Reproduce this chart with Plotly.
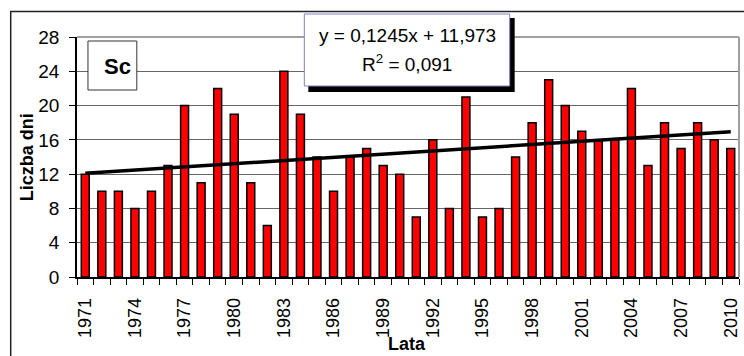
import plotly.graph_objects as go

# Annual number of days (Sc), 1971-2010
years = list(range(1971, 2011))
days = [12, 10, 10, 8, 10, 13, 20, 11, 22, 19,
        11, 6, 24, 19, 14, 10, 14, 15, 13, 12,
        7, 16, 8, 21, 7, 8, 14, 18, 23, 20,
        17, 16, 16, 22, 13, 18, 15, 18, 16, 15]

# Linear trend as reported: y = a*i + b, i = 1..n
trend_a = 0.1245
trend_b = 11.973
r2 = 0.091

tick_years = years[::3]
y_ticks = list(range(0, 29, 4))

W, H = 744, 356
L, R, T, B = 77, 3, 37, 79
PW, PH = W - L - R, H - T - B


def px(x):
    return (x - L) / PW


def py(y):
    return (H - B - y) / PH


trend_x = [years[0], years[-1]]
trend_y = [trend_a * 1 + trend_b, trend_a * len(years) + trend_b]

fig = go.Figure()
fig.add_trace(go.Bar(
    x=years, y=days, width=0.48,
    marker=dict(color="#ff0000", line=dict(color="black", width=1.5)),
    hoverinfo="x+y",
))
fig.add_trace(go.Scatter(
    x=trend_x, y=trend_y, mode="lines",
    line=dict(color="black", width=3.5),
    hoverinfo="skip",
))

font = "Liberation Sans, Arial, sans-serif"

shapes = [
    # outer frame (open to the right and bottom)
    dict(type="rect", xref="paper", yref="paper",
         x0=px(10.5), x1=px(760), y0=py(11.5), y1=py(380),
         line=dict(color="#222", width=1.5), fillcolor="rgba(0,0,0,0)"),
    # plot-area border top / right
    dict(type="line", xref="paper", yref="paper",
         x0=0, x1=1, y0=1, y1=1, line=dict(color="#a0a0a0", width=2)),
    dict(type="line", xref="paper", yref="paper",
         x0=1, x1=1, y0=0, y1=1, line=dict(color="#a0a0a0", width=2)),
    # series label box
    dict(type="rect", xref="paper", yref="paper",
         x0=px(88), x1=px(137), y0=py(41), y1=py(90),
         line=dict(color="#333", width=1), fillcolor="white"),
    # equation box shadow + box
    dict(type="rect", xref="paper", yref="paper",
         x0=px(309), x1=px(516), y0=py(18), y1=py(92),
         line=dict(width=0), fillcolor="black"),
    dict(type="rect", xref="paper", yref="paper",
         x0=px(305), x1=px(511), y0=py(14), y1=py(86),
         line=dict(color="#8080c0", width=1), fillcolor="white"),
]

a_txt = f"{trend_a:.4f}".replace(".", ",")
b_txt = f"{trend_b:.3f}".replace(".", ",")
r_txt = f"{r2:.3f}".replace(".", ",")


def label(text, x, y, size, angle=0):
    return dict(text=text, xref="paper", yref="paper", x=px(x), y=py(y),
                xanchor="center", yanchor="middle", textangle=angle,
                showarrow=False,
                font=dict(family=font, size=size, color="black"))


annotations = [
    label("<b>Sc</b>", 118, 66, 22),
    label(f"y = {a_txt}x + {b_txt}", 408, 35, 19),
    label(f"R<sup>2</sup> = {r_txt}", 408, 63, 19),
    label("<b>Liczba dni</b>", 27, 157, 18, -90),
    label("<b>Lata</b>", 408, 344, 18),
]

fig.update_layout(
    width=W, height=H,
    margin=dict(l=L, r=R, t=T, b=B, pad=0),
    paper_bgcolor="white", plot_bgcolor="white",
    showlegend=False,
    shapes=shapes,
    annotations=annotations,
    font=dict(family=font, color="black"),
    xaxis=dict(
        range=[years[0] - 0.5, years[-1] + 0.5],
        tickmode="array", tickvals=tick_years,
        ticktext=[str(y) for y in tick_years],
        tickangle=-90, ticks="", ticklabelstandoff=12,
        tickfont=dict(family=font, size=18, color="black"),
        showgrid=False, zeroline=False,
        showline=True, linecolor="black", linewidth=1.5,
        minor=dict(tickmode="linear", tick0=years[0] - 0.5, dtick=1,
                   ticks="outside", ticklen=6, tickcolor="black",
                   tickwidth=1, showgrid=False),
    ),
    yaxis=dict(
        range=[0, 28], tickmode="array", tickvals=y_ticks,
        ticks="outside", ticklen=6, tickcolor="black", tickwidth=1,
        ticklabelstandoff=6,
        tickfont=dict(family=font, size=19, color="black"),
        showgrid=True, gridcolor="#666", gridwidth=1,
        zeroline=False,
        showline=True, linecolor="black", linewidth=1.5,
    ),
)

fig.write_html("out.html")
